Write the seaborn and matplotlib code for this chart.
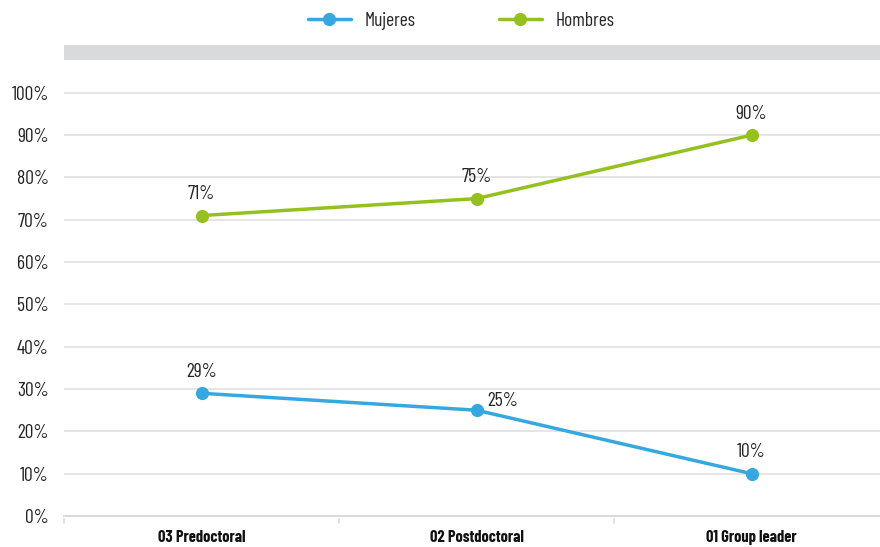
import matplotlib
matplotlib.use("Agg")
import matplotlib.pyplot as plt
import seaborn as sns
import pandas as pd

categories = ["03 Predoctoral", "02 Postdoctoral", "01 Group leader"]
mujeres = [29, 25, 10]
hombres = [71, 75, 90]
series_names = ["Mujeres", "Hombres"]
yticks = [0, 10, 20, 30, 40, 50, 60, 70, 80, 90, 100]
ytick_labels = [f"{v}%" for v in yticks]

df = pd.DataFrame({
    "cat": categories * 2,
    "val": mujeres + hombres,
    "serie": [series_names[0]] * 3 + [series_names[1]] * 3,
})

sns.set_theme(style="white")
plt.rcParams['font.family'] = ['Barlow Condensed', 'Roboto Condensed',
                               'IBM Plex Sans Condensed', 'DejaVu Sans']

colors = {"Mujeres": "#35a8e0", "Hombres": "#95c11f"}
TXT = "#222222"

fig = plt.figure(figsize=(8.8, 5.47), dpi=100)
ax = fig.add_axes([64 / 880, (547 - 516) / 547, (889 - 64) / 880, (516 - 45) / 547])

sns.lineplot(data=df, x="cat", y="val", hue="serie", palette=colors,
             marker="o", markersize=9.5, markeredgewidth=0, linewidth=2.5,
             ax=ax, legend=True, sort=False)

ax.set_xlim(-0.5, 2.5)
ax.set_ylim(0, 111.3)
ax.axhspan(107.8, 111.3, color="#d9dadb", lw=0, zorder=0)
ax.set_yticks(yticks)
ax.set_yticklabels(ytick_labels, fontsize=14, color=TXT)
ax.yaxis.grid(True, color="#e0e0e0", lw=1.2)
ax.set_axisbelow(True)
ax.tick_params(axis="y", length=0, pad=11)
ax.set_xticks(range(len(categories)))
ax.set_xticklabels(categories, fontsize=11.8, fontweight="bold", color="#111111")
ax.tick_params(axis="x", length=0, pad=10)
for b in [-0.5, 0.5, 1.5]:
    ax.annotate("", xy=(b, 0), xytext=(0, -7), textcoords="offset points",
                xycoords="data", arrowprops=dict(arrowstyle="-", color="#d9dadb", lw=1.2),
                annotation_clip=False)
ax.set_xlabel("")
ax.set_ylabel("")
for s in ["top", "right", "left"]:
    ax.spines[s].set_visible(False)
ax.spines["bottom"].set_color("#d9dadb")
ax.spines["bottom"].set_linewidth(1.5)

# data labels
for i, v in enumerate(hombres):
    ax.annotate(f"{v}%", (i, v), xytext=(0, 9), textcoords="offset points",
                ha="center", va="bottom", fontsize=14, color=TXT)
for i, v in enumerate(mujeres):
    if i == 1:
        ax.annotate(f"{v}%", (i, v), xytext=(8, 0), textcoords="offset points",
                    ha="left", va="bottom", fontsize=14, color=TXT)
    else:
        ax.annotate(f"{v}%", (i, v), xytext=(0, 9), textcoords="offset points",
                    ha="center", va="bottom", fontsize=14, color=TXT)

handles, labels = ax.get_legend_handles_labels()
ax.get_legend().remove()
fig.legend(handles, labels, loc="center", bbox_to_anchor=(0.524, 0.962), ncol=2,
           frameon=False, fontsize=14, columnspacing=4.3, handlelength=2.2,
           handletextpad=0.7)

fig.savefig("out.png", dpi=100)
